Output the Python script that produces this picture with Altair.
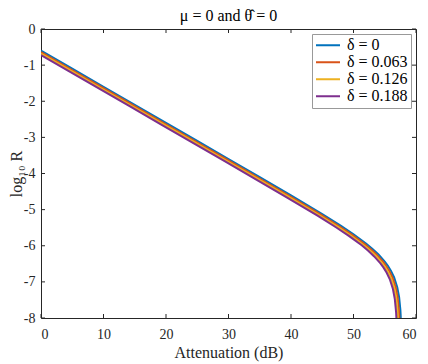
import altair as alt
import pandas as pd

series = ["δ = 0", "δ = 0.063", "δ = 0.126", "δ = 0.188"]
colors = ["#0072BD", "#D95319", "#EDB120", "#7E2F8E"]

x_d0 = [0, 5, 10, 15, 20, 25, 30, 35, 40, 45, 48, 50, 52, 53, 54, 55, 55.5, 56, 56.5, 57, 57.3, 57.5, 57.55, 57.6]
y_d0 = [-0.60, -1.10, -1.60, -2.10, -2.60, -3.10, -3.60, -4.10, -4.607, -5.124, -5.45, -5.682, -5.937, -6.081,
        -6.244, -6.439, -6.556, -6.697, -6.878, -7.148, -7.424, -7.777, -7.94, -8.2]

x_d1 = [0, 4.77, 9.77, 14.77, 19.77, 24.77, 29.77, 34.77, 39.77, 44.77, 47.77, 49.77, 51.77, 52.77, 53.77, 54.77,
        55.27, 55.77, 56.27, 56.77, 57.07, 57.27, 57.32, 57.37]
y_d1 = [-0.64, -1.117, -1.617, -2.117, -2.617, -3.117, -3.617, -4.119, -4.624, -5.141, -5.467, -5.699, -5.954,
        -6.098, -6.261, -6.456, -6.573, -6.714, -6.895, -7.165, -7.441, -7.794, -7.957, -8.2]

x_d2 = [0, 4.54, 9.54, 14.54, 19.54, 24.54, 29.54, 34.54, 39.54, 44.54, 47.54, 49.54, 51.54, 52.54, 53.54, 54.54,
        55.04, 55.54, 56.04, 56.54, 56.84, 57.04, 57.09, 57.14]
y_d2 = [-0.68, -1.134, -1.634, -2.134, -2.634, -3.134, -3.634, -4.136, -4.641, -5.158, -5.484, -5.716, -5.971,
        -6.115, -6.278, -6.473, -6.590, -6.731, -6.912, -7.182, -7.458, -7.811, -7.974, -8.2]

x_d3 = [0, 4.31, 9.31, 14.31, 19.31, 24.31, 29.31, 34.31, 39.31, 44.31, 47.31, 49.31, 51.31, 52.31, 53.31, 54.31,
        54.81, 55.31, 55.81, 56.31, 56.61, 56.81, 56.86, 56.91]
y_d3 = [-0.72, -1.151, -1.651, -2.151, -2.651, -3.151, -3.651, -4.153, -4.658, -5.175, -5.501, -5.733, -5.988,
        -6.132, -6.295, -6.490, -6.607, -6.748, -6.929, -7.199, -7.475, -7.828, -7.991, -8.2]

x_ticks = [0, 10, 20, 30, 40, 50, 60]
y_ticks = [0, -1, -2, -3, -4, -5, -6, -7, -8]

rows = []
for k, (xs, ys) in enumerate([(x_d0, y_d0), (x_d1, y_d1), (x_d2, y_d2), (x_d3, y_d3)]):
    for i, (xv, yv) in enumerate(zip(xs, ys)):
        rows.append({"x": xv, "y": yv, "s": series[k], "k": k, "i": i})
df = pd.DataFrame(rows)

W, H = 375, 289
FONT = "Liberation Serif, DejaVu Serif, serif"
INK = "#262626"

xscale = alt.Scale(domain=[0, 60], nice=False)
yscale = alt.Scale(domain=[-8, 0], nice=False)
xaxis = alt.Axis(values=x_ticks, ticks=False, domain=False, grid=False, labelPadding=9,
                 titlePadding=3, labelOverlap=False)
yaxis = alt.Axis(values=y_ticks, ticks=False, domain=False, grid=False, labelPadding=6,
                 labelExpr="replace(datum.label, '−', '-')", titleX=-17, labelOverlap=False)
XT = "Attenuation (dB)"
YT = "log₁₀ R"

lines = alt.Chart(df).mark_line(strokeWidth=2, clip=True).encode(
    x=alt.X("x:Q", scale=xscale, title=XT, axis=xaxis),
    y=alt.Y("y:Q", scale=yscale, title=YT, axis=yaxis),
    color=alt.Color("s:N", sort=series, scale=alt.Scale(domain=series, range=colors),
                    legend=alt.Legend(title=None, orient="none", legendX=271, legendY=5,
                                      symbolType="stroke", symbolSize=576, symbolStrokeWidth=2,
                                      labelFont=FONT, labelFontSize=16, labelColor="black",
                                      fillColor="white", strokeColor="#999999", padding=3,
                                      rowPadding=0, clipHeight=16.5, labelOffset=6)),
    detail="k:N",
    order="i:Q",
)

xt = pd.DataFrame({"t": x_ticks})
yt = pd.DataFrame({"t": y_ticks})

tb = alt.Chart(xt).mark_rule(color=INK, strokeWidth=1).encode(
    x=alt.X("t:Q", scale=xscale, title=XT, axis=xaxis), y=alt.value(H), y2=alt.value(H - 4))
tt = alt.Chart(xt).mark_rule(color=INK, strokeWidth=1).encode(
    x=alt.X("t:Q", scale=xscale, title=XT, axis=xaxis), y=alt.value(0), y2=alt.value(4))
tl = alt.Chart(yt).mark_rule(color=INK, strokeWidth=1).encode(
    y=alt.Y("t:Q", scale=yscale, title=YT, axis=yaxis), x=alt.value(0), x2=alt.value(4))
tr = alt.Chart(yt).mark_rule(color=INK, strokeWidth=1).encode(
    y=alt.Y("t:Q", scale=yscale, title=YT, axis=yaxis), x=alt.value(W), x2=alt.value(W - 4))

chart = alt.layer(lines, tb, tt, tl, tr).properties(
    width=W, height=H,
    title=alt.TitleParams(text="μ = 0 and θ̂ = 0", font=FONT, fontSize=16, fontWeight="normal",
                          color="black", offset=0, dy=2, frame="group"),
    autosize=alt.AutoSizeParams(type="none"),
    padding={"left": 33, "top": 21, "right": 4, "bottom": 48},
).configure_view(stroke=INK, strokeWidth=1).configure_axis(
    labelFont=FONT, labelFontSize=14, labelColor=INK, titleFont=FONT, titleFontSize=16,
    titleFontWeight="normal", titleColor=INK,
)

chart.save("out.html", embed_options={"renderer": "svg", "actions": False})
